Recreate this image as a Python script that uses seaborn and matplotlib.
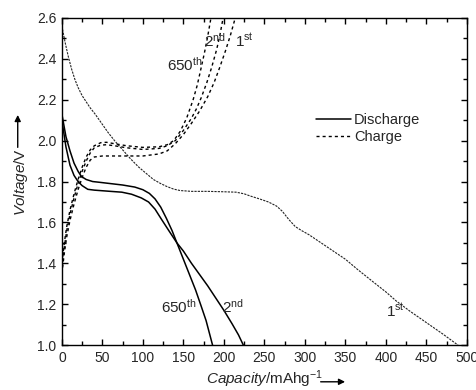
import numpy as np
import pandas as pd
import matplotlib
matplotlib.use("Agg")
import matplotlib.pyplot as plt
import seaborn as sns
from matplotlib.ticker import MultipleLocator
from matplotlib.lines import Line2D

# discharge, 1st cycle
d1_cap = [0, 4, 8, 12, 16, 20, 25, 30, 35, 41, 49, 57, 65, 75, 85, 95, 104, 113, 122, 130,
          138, 146, 160, 180, 200, 215, 225, 232, 244, 255, 265, 272, 280, 288, 296, 305, 320,
          335, 350, 365, 384, 400, 413, 430, 450, 470, 489]
d1_v = [2.56, 2.48, 2.41, 2.35, 2.30, 2.26, 2.22, 2.19, 2.16, 2.13, 2.085, 2.04, 2.00, 1.955,
        1.91, 1.87, 1.84, 1.81, 1.79, 1.775, 1.763, 1.756, 1.752, 1.752, 1.75, 1.748, 1.74,
        1.73, 1.715, 1.70, 1.68, 1.655, 1.615, 1.58, 1.56, 1.54, 1.50, 1.46, 1.42, 1.37,
        1.31, 1.26, 1.215, 1.165, 1.11, 1.055, 1.0]

# discharge, 2nd cycle
d2_cap = [0, 5, 10, 15, 20, 25, 32, 40, 50, 60, 74, 86, 98, 107, 115, 123, 132, 142, 150, 160,
          170, 180, 190, 200, 210, 218, 224]
d2_v = [2.10, 1.97, 1.88, 1.83, 1.80, 1.78, 1.762, 1.758, 1.755, 1.752, 1.748, 1.738, 1.72,
        1.70, 1.665, 1.615, 1.56, 1.50, 1.46, 1.40, 1.345, 1.29, 1.23, 1.17, 1.105, 1.05, 1.0]

# discharge, 650th cycle
d650_cap = [0, 5, 10, 15, 20, 24, 30, 38, 45, 60, 75, 90, 100, 108, 115, 122, 129, 136, 142,
            150, 158, 165, 172, 178, 182, 186]
d650_v = [2.13, 2.02, 1.95, 1.89, 1.85, 1.825, 1.81, 1.80, 1.797, 1.79, 1.783, 1.773, 1.76,
          1.742, 1.715, 1.675, 1.62, 1.56, 1.50, 1.42, 1.34, 1.27, 1.19, 1.12, 1.06, 1.0]

# charge, 1st cycle
c1_cap = [0, 3, 6, 10, 15, 20, 25, 30, 35, 40, 50, 60, 80, 100, 120, 130, 140, 150, 160, 170,
          180, 188, 195, 202, 208, 214]
c1_v = [1.35, 1.45, 1.53, 1.61, 1.69, 1.76, 1.82, 1.87, 1.905, 1.92, 1.925, 1.925, 1.925,
        1.925, 1.935, 1.95, 1.985, 2.03, 2.085, 2.145, 2.215, 2.285, 2.36, 2.44, 2.515, 2.6]

# charge, 2nd cycle
c2_cap = [0, 3, 6, 10, 15, 20, 25, 30, 35, 40, 48, 55, 65, 80, 100, 120, 130, 140, 150, 160,
          166, 172, 179, 185, 191, 195, 199]
c2_v = [1.38, 1.48, 1.56, 1.64, 1.72, 1.79, 1.85, 1.90, 1.94, 1.965, 1.978, 1.98, 1.975,
        1.965, 1.957, 1.962, 1.975, 2.0, 2.05, 2.11, 2.155, 2.21, 2.285, 2.36, 2.445, 2.515, 2.6]

# charge, 650th cycle
c650_cap = [0, 3, 6, 10, 15, 20, 25, 30, 35, 40, 48, 55, 65, 80, 100, 120, 130, 138, 146, 154,
            162, 167, 171, 176, 180, 184]
c650_v = [1.40, 1.50, 1.58, 1.66, 1.74, 1.81, 1.87, 1.92, 1.955, 1.975, 1.99, 1.992, 1.985,
          1.975, 1.967, 1.97, 1.98, 2.0, 2.045, 2.11, 2.20, 2.27, 2.34, 2.43, 2.51, 2.6]

sns.set_style("ticks")
plt.rcParams["font.family"] = ["Liberation Sans", "DejaVu Sans"]
plt.rcParams["mathtext.fontset"] = "custom"
plt.rcParams["mathtext.rm"] = "Liberation Sans"
plt.rcParams["mathtext.it"] = "Liberation Sans:italic"

fig = plt.figure(figsize=(4.76, 3.90), dpi=100)
ax = fig.add_axes([0.130, 0.115, 0.851, 0.839])

solid = dict(color="black", lw=1.1, linestyle="-")
dash = dict(color="black", lw=1.0, linestyle=(0, (2.2, 2.2)))
thin = dict(color="#222222", lw=0.8, linestyle=(0, (2.0, 1.0)))

sns.lineplot(x=d1_cap, y=d1_v, sort=False, estimator=None, ax=ax, **thin)
sns.lineplot(x=d2_cap, y=d2_v, sort=False, estimator=None, ax=ax, **solid)
sns.lineplot(x=d650_cap, y=d650_v, sort=False, estimator=None, ax=ax, **solid)
for cx, cy in [(c1_cap, c1_v), (c2_cap, c2_v), (c650_cap, c650_v)]:
    sns.lineplot(x=cx, y=cy, sort=False, estimator=None, ax=ax, **dash)

ax.set_xlim(0, 500)
ax.set_ylim(1.0, 2.6)
ax.xaxis.set_major_locator(MultipleLocator(50))
ax.xaxis.set_minor_locator(MultipleLocator(25))
ax.yaxis.set_major_locator(MultipleLocator(0.2))
ax.yaxis.set_minor_locator(MultipleLocator(0.1))
ax.tick_params(which="both", direction="in", top=True, right=True, color="black",
               labelsize=10, pad=4)
ax.tick_params(which="major", length=4, width=1)
ax.tick_params(which="minor", length=3, width=1)
for s in ax.spines.values():
    s.set_linewidth(1.0)
    s.set_color("black")

ax.set_xlabel(r"$\it{Capacity}$/mAhg$^{-1}$", fontsize=11, labelpad=3)
ax.set_ylabel(r"$\it{Voltage}$/V", fontsize=11, labelpad=5)
ax.annotate("", xy=(0.706, -0.112), xytext=(0.632, -0.112), xycoords="axes fraction",
            arrowprops=dict(arrowstyle="-|>", color="black", lw=1, mutation_scale=9),
            annotation_clip=False)
ax.annotate("", xy=(-0.109, 0.712), xytext=(-0.109, 0.596), xycoords="axes fraction",
            arrowprops=dict(arrowstyle="-|>", color="black", lw=1, mutation_scale=9),
            annotation_clip=False)

lab = dict(fontsize=11, ha="center", va="center")
ax.text(152, 2.37, r"650$^{\rm th}$", **lab)
ax.text(189, 2.49, r"2$^{\rm nd}$", **lab)
ax.text(225, 2.49, r"1$^{\rm st}$", **lab)
ax.text(144, 1.19, r"650$^{\rm th}$", **lab)
ax.text(211, 1.19, r"2$^{\rm nd}$", **lab)
ax.text(412, 1.17, r"1$^{\rm st}$", **lab)

handles = [Line2D([], [], **solid), Line2D([], [], **dash)]
ax.legend(handles, ["Discharge", "Charge"], loc="upper left", bbox_to_anchor=(0.595, 0.75),
          frameon=False, fontsize=10.5, handlelength=2.4, handletextpad=0.2,
          labelspacing=0.2)

fig.savefig("out.png", dpi=100)
